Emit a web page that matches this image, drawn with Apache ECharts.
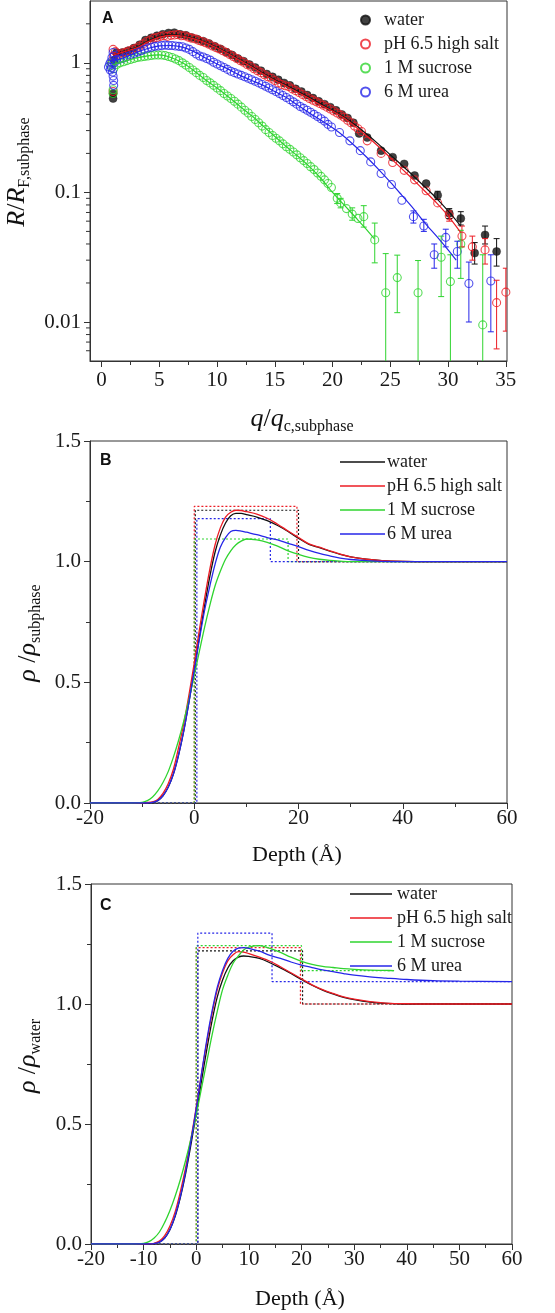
<!DOCTYPE html>
<html><head><meta charset="utf-8">
<script src="https://cdn.jsdelivr.net/npm/echarts@6/dist/echarts.min.js"></script>
<style>html,body{margin:0;padding:0;background:#fff}#c{width:555px;height:1313px}</style>
</head><body><div id="c"></div><script>
// ---------- Panel A data (q/qc, R/RF) ----------
const qTicks = [0,5,10,15,20,25,30,35];
const qMinor = [2.5,7.5,12.5,17.5,22.5,27.5,32.5];
const rTicks = [0.01,0.1,1];
const rMinor = [0.006,0.007,0.008,0.009,0.02,0.03,0.04,0.05,0.06,0.07,0.08,0.09,0.2,0.3,0.4,0.5,0.6,0.7,0.8,0.9,2];

const waterPts = [[1.0,0.53],[1.0,0.58],[1.1,1.05],[1.3,1.2],[1.8,1.2],[2.3,1.24],[2.8,1.3],[3.3,1.38],[3.8,1.5],[4.3,1.56],[4.8,1.62],[5.3,1.66],[5.8,1.7],[6.3,1.71],[6.8,1.66],[7.3,1.63],[7.8,1.57],[8.3,1.52],[8.8,1.47],[9.3,1.41],[9.8,1.34],[10.3,1.28],[10.8,1.21],[11.3,1.15],[11.8,1.08],[12.3,1.03],[12.8,0.97],[13.3,0.92],[13.8,0.87],[14.3,0.82],[14.8,0.78],[15.3,0.74],[15.8,0.70],[16.3,0.67],[16.8,0.63],[17.3,0.60],[17.8,0.565],[18.3,0.535],[18.8,0.505],[19.3,0.48],[19.8,0.455],[20.3,0.43],[20.8,0.40],[21.3,0.375],[21.8,0.345],[22.3,0.285],[23.0,0.265],[24.2,0.21],[25.2,0.187],[26.2,0.166],[27.1,0.135],[28.1,0.117],[29.1,0.095],[30.1,0.069],[31.1,0.063],[32.3,0.034],[33.2,0.047],[34.2,0.035]];
const saltPts = [[0.9,1.0],[1.0,1.27],[1.0,0.6],[1.05,1.12],[1.2,1.22],[1.5,1.17],[1.8,1.19],[2.1,1.21],[2.4,1.24],[2.7,1.27],[3.0,1.3],[3.3,1.35],[3.6,1.4],[3.9,1.46],[4.2,1.5],[4.5,1.55],[4.8,1.57],[5.1,1.6],[5.4,1.62],[5.7,1.6],[6.0,1.63],[6.3,1.64],[6.6,1.65],[6.9,1.62],[7.2,1.62],[7.5,1.58],[7.8,1.55],[8.1,1.53],[8.4,1.49],[8.7,1.46],[9.0,1.43],[9.3,1.39],[9.6,1.35],[9.9,1.31],[10.2,1.28],[10.5,1.24],[10.8,1.2],[11.1,1.16],[11.4,1.12],[11.7,1.08],[12.0,1.04],[12.3,1.01],[12.6,0.97],[12.9,0.94],[13.2,0.9],[13.5,0.87],[13.8,0.84],[14.1,0.81],[14.4,0.78],[14.7,0.76],[15.0,0.73],[15.3,0.70],[15.6,0.68],[15.9,0.665],[16.2,0.655],[16.5,0.63],[16.8,0.61],[17.1,0.59],[17.4,0.57],[17.7,0.55],[18.0,0.53],[18.3,0.515],[18.6,0.50],[18.9,0.485],[19.2,0.47],[19.5,0.455],[19.8,0.44],[20.1,0.425],[20.4,0.41],[20.7,0.395],[21.0,0.38],[21.3,0.36],[21.6,0.345],[21.9,0.325],[22.2,0.31],[22.5,0.295],[23.0,0.25],[24.2,0.20],[25.2,0.17],[26.2,0.148],[27.1,0.125],[28.1,0.103],[29.1,0.083],[30.1,0.066],[31.2,0.046],[32.1,0.038],[33.2,0.036],[34.2,0.0141],[35.0,0.017]];
const sucrosePts = [[0.8,0.95],[0.9,1.0],[1.0,0.62],[1.0,0.58],[1.05,0.9],[1.3,0.97],[1.6,1.0],[1.9,1.02],[2.2,1.04],[2.5,1.06],[2.8,1.08],[3.1,1.1],[3.4,1.11],[3.7,1.12],[4.0,1.13],[4.3,1.14],[4.6,1.15],[4.9,1.15],[5.2,1.15],[5.5,1.14],[5.8,1.12],[6.1,1.1],[6.4,1.07],[6.7,1.04],[7.0,1.0],[7.3,0.96],[7.6,0.92],[7.9,0.88],[8.2,0.84],[8.5,0.8],[8.8,0.77],[9.1,0.73],[9.4,0.7],[9.7,0.67],[10.0,0.64],[10.3,0.61],[10.6,0.58],[10.9,0.555],[11.2,0.53],[11.5,0.505],[11.8,0.48],[12.1,0.455],[12.4,0.43],[12.7,0.41],[13.0,0.385],[13.3,0.365],[13.6,0.345],[13.9,0.325],[14.2,0.305],[14.5,0.29],[14.8,0.275],[15.1,0.262],[15.4,0.25],[15.7,0.237],[16.0,0.225],[16.3,0.215],[16.6,0.205],[16.9,0.195],[17.2,0.185],[17.5,0.176],[17.8,0.167],[18.1,0.158],[18.4,0.15],[18.7,0.141],[19.0,0.133],[19.3,0.125],[19.6,0.117],[19.9,0.109],[20.4,0.09],[20.7,0.083],[21.2,0.075],[21.7,0.068],[22.2,0.063],[22.7,0.065],[23.65,0.043],[24.6,0.0168],[25.6,0.022],[27.4,0.0168],[29.4,0.0316],[30.2,0.0205],[31.1,0.04],[33.0,0.0095]];
const ureaPts = [[0.6,0.93],[0.7,0.98],[0.75,0.88],[0.8,1.02],[0.85,0.92],[0.9,1.1],[0.95,0.85],[1.0,1.2],[1.0,0.79],[1.05,0.73],[1.05,0.67],[1.1,1.14],[1.1,1.0],[1.3,1.05],[1.6,1.07],[1.9,1.09],[2.2,1.12],[2.5,1.15],[2.8,1.18],[3.1,1.21],[3.4,1.24],[3.7,1.27],[4.0,1.3],[4.3,1.32],[4.6,1.34],[4.9,1.35],[5.2,1.36],[5.5,1.37],[5.8,1.36],[6.1,1.36],[6.4,1.35],[6.7,1.34],[7.0,1.33],[7.3,1.3],[7.6,1.27],[7.9,1.22],[8.2,1.17],[8.5,1.13],[8.8,1.11],[9.1,1.08],[9.4,1.05],[9.7,1.01],[10.0,0.98],[10.3,0.95],[10.6,0.92],[10.9,0.89],[11.2,0.86],[11.5,0.84],[11.8,0.82],[12.1,0.8],[12.4,0.78],[12.7,0.76],[13.0,0.74],[13.3,0.72],[13.6,0.7],[13.9,0.68],[14.2,0.66],[14.5,0.64],[14.8,0.62],[15.1,0.6],[15.4,0.58],[15.7,0.56],[16.0,0.54],[16.3,0.52],[16.6,0.5],[16.9,0.48],[17.2,0.46],[17.5,0.445],[17.8,0.43],[18.1,0.415],[18.4,0.4],[18.7,0.385],[19.0,0.37],[19.3,0.355],[19.6,0.335],[19.9,0.32],[20.6,0.29],[21.5,0.25],[22.4,0.21],[23.3,0.172],[24.2,0.14],[25.1,0.115],[26.0,0.087],[27.0,0.065],[27.9,0.055],[28.8,0.033],[29.8,0.045],[30.8,0.035],[31.8,0.0198],[33.7,0.0207]];

// error bars [q, low, high]
const waterErr = [[29.1,0.088,0.102],[30.1,0.063,0.075],[31.1,0.056,0.071],[32.3,0.028,0.041],[33.2,0.040,0.055],[34.2,0.027,0.044]];
const saltErr = [[30.1,0.06,0.072],[31.2,0.038,0.055],[32.1,0.030,0.046],[33.2,0.028,0.044],[34.2,0.0062,0.021],[35.0,0.0085,0.026]];
const sucroseErr = [[20.4,0.082,0.098],[20.7,0.076,0.09],[21.7,0.061,0.076],[22.7,0.054,0.079],[23.65,0.0286,0.058],[24.6,0.001,0.0337],[25.6,0.0118,0.0328],[27.4,0.001,0.0298],[29.4,0.0157,0.046],[30.2,0.001,0.033],[31.1,0.0217,0.051],[33.0,0.001,0.033]];
const ureaErr = [[27.0,0.058,0.072],[27.9,0.05,0.062],[28.8,0.026,0.04],[29.8,0.038,0.052],[30.8,0.026,0.042],[31.8,0.01,0.029],[33.7,0.0084,0.033]];

// fits
const waterFit = [[1,1.15],[2,1.22],[3,1.31],[4,1.47],[5,1.6],[6,1.65],[7,1.62],[8,1.54],[9,1.44],[10,1.31],[11,1.18],[12,1.05],[13,0.94],[14,0.83],[15,0.74],[16,0.67],[17,0.6],[18,0.54],[19,0.48],[20,0.43],[21,0.38],[22,0.33],[23,0.28],[24,0.235],[25,0.195],[26,0.162],[27,0.134],[28,0.11],[29,0.09],[30,0.072],[31.1,0.055]];
const saltFit = [[1,1.15],[2,1.22],[3,1.3],[4,1.45],[5,1.58],[6,1.63],[7,1.61],[8,1.53],[9,1.43],[10,1.3],[11,1.17],[12,1.04],[13,0.93],[14,0.82],[15,0.73],[16,0.66],[17,0.59],[18,0.53],[19,0.47],[20,0.425],[21,0.375],[22,0.32],[23,0.27],[24,0.225],[25,0.185],[26,0.152],[27,0.125],[28,0.102],[29,0.083],[30,0.066],[31.1,0.049]];
const sucroseFit = [[1,0.97],[2,1.03],[3,1.09],[4,1.13],[5,1.15],[6,1.1],[7,1.0],[8,0.87],[9,0.74],[10,0.64],[11,0.545],[12,0.46],[13,0.39],[14,0.325],[15,0.27],[16,0.225],[17,0.19],[18,0.158],[19,0.128],[20,0.1],[21,0.08],[22,0.064],[23,0.051],[23.6,0.044]];
const ureaFit = [[1,1.03],[2,1.1],[3,1.2],[4,1.29],[5,1.35],[6,1.36],[7,1.32],[8,1.22],[9,1.09],[10,0.98],[11,0.89],[12,0.8],[13,0.73],[14,0.67],[15,0.6],[16,0.54],[17,0.47],[18,0.41],[19,0.36],[20,0.315],[21,0.27],[22,0.225],[23,0.185],[24,0.15],[25,0.12],[26,0.095],[27,0.075],[28,0.058],[29,0.046],[30,0.036],[30.7,0.030]];

// ---------- Panel B / C data (depth, rho) ----------
const depth = [-20,-12,-10,-9,-8,-7,-6,-5,-4,-3,-2,-1,0,1,2,3,4,5,6,7,8,9,10,12,14,16,18,20,22,24,26,28,30,33,36,40,45,50,60];
const depthShort = [-20,-12,-10,-9,-8,-7,-6,-5,-4,-3,-2,-1,0,1,2,3,4,5,6,7,8,9,10,12,14,16,18,20,22,24,26,28,30,33,36,37.6];
const bWater = [0,0,0,0,0.003,0.01,0.03,0.065,0.12,0.2,0.3,0.42,0.55,0.69,0.82,0.94,1.04,1.11,1.16,1.19,1.2,1.2,1.195,1.185,1.17,1.15,1.125,1.097,1.072,1.058,1.044,1.03,1.02,1.01,1.004,1.001,1.0,1.0,1.0];
const bSalt = [0,0,0,0.002,0.005,0.015,0.04,0.08,0.14,0.23,0.33,0.45,0.58,0.72,0.85,0.97,1.07,1.14,1.185,1.205,1.213,1.212,1.207,1.197,1.18,1.155,1.127,1.1,1.074,1.06,1.045,1.031,1.02,1.01,1.004,1.001,1.0,1.0,1.0];
const bSucrose = [0,0,0.003,0.01,0.025,0.05,0.085,0.13,0.19,0.26,0.34,0.43,0.53,0.63,0.73,0.82,0.9,0.96,1.01,1.045,1.07,1.085,1.094,1.09,1.08,1.064,1.045,1.03,1.018,1.01,1.005,1.002,1.0,1.0,1.0,1.0,1.0,1.0,1.0];
const bUrea = [0,0,0,0,0.003,0.01,0.03,0.065,0.12,0.2,0.3,0.42,0.55,0.68,0.8,0.9,0.99,1.06,1.1,1.125,1.13,1.127,1.122,1.112,1.1,1.09,1.076,1.062,1.047,1.034,1.024,1.015,1.009,1.004,1.001,1.0,1.0,1.0,1.0];
const cWater = [0,0,0,0,0.002,0.008,0.025,0.06,0.115,0.195,0.295,0.415,0.545,0.68,0.81,0.93,1.03,1.1,1.15,1.18,1.195,1.2,1.198,1.19,1.172,1.15,1.127,1.102,1.078,1.058,1.042,1.028,1.018,1.008,1.003,1.0,1.0,1.0,1.0];
const cSalt = [0,0,0,0.001,0.003,0.012,0.035,0.075,0.135,0.22,0.32,0.44,0.57,0.71,0.84,0.96,1.06,1.13,1.18,1.205,1.218,1.216,1.21,1.195,1.178,1.155,1.13,1.105,1.08,1.06,1.044,1.03,1.02,1.01,1.004,1.001,1.0,1.0,1.0];
const cSucrose = [0,0,0.003,0.01,0.025,0.05,0.09,0.14,0.2,0.27,0.35,0.44,0.54,0.65,0.76,0.87,0.97,1.06,1.12,1.17,1.2,1.225,1.237,1.243,1.232,1.215,1.195,1.178,1.165,1.157,1.152,1.147,1.144,1.141,1.14,1.139];
const cUrea = [0,0,0,0,0.002,0.008,0.025,0.06,0.12,0.2,0.305,0.43,0.565,0.71,0.85,0.97,1.07,1.14,1.19,1.22,1.233,1.235,1.232,1.22,1.203,1.19,1.175,1.162,1.152,1.142,1.135,1.127,1.12,1.113,1.108,1.102,1.097,1.095,1.093];

// box (slab) models: [depth, rho] corners
const boxBWater = [[-20,0],[0.2,0],[0.2,1.213],[20,1.213],[20,1],[60,1]];
const boxBSalt = [[-20,0],[0,0],[0,1.229],[19.7,1.229],[19.7,1],[60,1]];
const boxBSucrose = [[-20,0],[0,0],[0,1.094],[18,1.094],[18,1],[60,1]];
const boxBUrea = [[-20,0],[0.5,0],[0.5,1.178],[14.6,1.178],[14.6,1],[60,1]];
const boxCWater = [[-20,0],[0.3,0],[0.3,1.221],[20.2,1.221],[20.2,1],[60,1]];
const boxCSalt = [[-20,0],[0,0],[0,1.235],[19.8,1.235],[19.8,1],[60,1]];
const boxCSucrose = [[-20,0],[0,0],[0,1.243],[20,1.243],[20,1.139],[37.6,1.139]];
const boxCUrea = [[-20,0],[0.3,0],[0.3,1.295],[14.4,1.295],[14.4,1.093],[60,1.093]];

const names = ['water','pH 6.5 high salt','1 M sucrose','6 M urea'];
const COL = ['#111111','#ec1c24','#2fd42f','#2626e8'];
const SERIF = 'Liberation Serif';
const AX = '#333';
const Q_MIN = -1, Q_MAX = 35.1;

function zip(xs, ys){ return xs.map((x,i)=>[x, ys[i]]); }

const chart = echarts.init(document.getElementById('c'), null, {renderer:'canvas'});

const LBL = {fontFamily:SERIF, fontSize:21, color:'#1a1a1a'};
function valueAxisCommon(){
  return {
    axisLine:{show:true, onZero:false, lineStyle:{color:AX, width:1}},
    axisTick:{show:true, length:6, lineStyle:{color:AX, width:1}},
    axisLabel:Object.assign({}, LBL),
    splitLine:{show:false}
  };
}

const xAxis = [
  Object.assign(valueAxisCommon(), {gridIndex:0, type:'value', position:'bottom', min:Q_MIN, max:Q_MAX,
    axisTick:{show:true, length:6, customValues:qTicks, lineStyle:{color:AX}},
    axisLabel:Object.assign({customValues:qTicks, margin:9}, LBL)}),
  {gridIndex:0, type:'value', position:'bottom', min:Q_MIN, max:Q_MAX, axisLine:{show:false, onZero:false},
    axisTick:{show:true, length:4, customValues:qMinor, lineStyle:{color:AX}}, axisLabel:{show:false}, splitLine:{show:false}},
  Object.assign(valueAxisCommon(), {gridIndex:1, type:'value', min:-20, max:60, interval:20,
    minorTick:{show:true, splitNumber:2, length:4, lineStyle:{color:AX}}}),
  Object.assign(valueAxisCommon(), {gridIndex:2, type:'value', min:-20, max:60, interval:10,
    minorTick:{show:true, splitNumber:2, length:4, lineStyle:{color:AX}}})
];
xAxis[2].axisLabel.margin = 5; xAxis[3].axisLabel.margin = 5;

const yAxis = [
  Object.assign(valueAxisCommon(), {gridIndex:0, type:'log', logBase:10, position:'left', min:0.005, max:3,
    axisTick:{show:true, length:6, customValues:rTicks, lineStyle:{color:AX}},
    axisLabel:Object.assign({customValues:rTicks, margin:9, formatter:v=>String(+(+v).toPrecision(2))}, LBL)}),
  {gridIndex:0, type:'log', logBase:10, position:'left', min:0.005, max:3, axisLine:{show:false, onZero:false},
    axisTick:{show:false}, axisLabel:{show:false}, splitLine:{show:false}},
  Object.assign(valueAxisCommon(), {gridIndex:1, type:'value', min:0, max:1.5, interval:0.5,
    minorTick:{show:true, splitNumber:2, length:4, lineStyle:{color:AX}}}),
  Object.assign(valueAxisCommon(), {gridIndex:2, type:'value', min:0, max:1.5, interval:0.5,
    minorTick:{show:true, splitNumber:2, length:4, lineStyle:{color:AX}}})
];
yAxis[2].axisLabel.formatter = v=>v.toFixed(1); yAxis[2].axisLabel.margin = 9;
yAxis[3].axisLabel.formatter = v=>v.toFixed(1); yAxis[3].axisLabel.margin = 9;

const series = [];
// log-axis minor ticks, placed through the log y scale at the left edge of panel A
series.push({
  type:'custom', name:'minorTicksA', xAxisIndex:0, yAxisIndex:0, clip:false, silent:true, z:5,
  data:rMinor.map(v=>[Q_MIN, v]),
  renderItem:(params, api)=>{
    const p = api.coord([api.value(0), api.value(1)]);
    return {type:'line', shape:{x1:p[0]-4, y1:p[1], x2:p[0], y2:p[1]}, style:{stroke:AX, lineWidth:1}};
  }
});
// Panel A scatter
const ptsA = [waterPts, saltPts, sucrosePts, ureaPts];
const errA = [waterErr, saltErr, sucroseErr, ureaErr];
const fitA = [waterFit, saltFit, sucroseFit, ureaFit];
const orderA = [0,1,2,3];
orderA.forEach(i=>{
  series.push({
    type:'scatter', name:names[i], xAxisIndex:0, yAxisIndex:0, data:ptsA[i],
    symbol:'circle', symbolSize:8,
    itemStyle: i===0 ? {color:COL[0], borderColor:COL[0], borderWidth:0.5}
                     : {color:'rgba(255,255,255,0)', borderColor:COL[i], borderWidth:1.1},
    z:2, silent:true
  });
});
orderA.forEach(i=>{
  const col = COL[i];
  series.push({
    type:'custom', name:'err'+i, xAxisIndex:0, yAxisIndex:0, data:errA[i], clip:true, z:3, silent:true,
    renderItem:(params, api)=>{
      const x = api.value(0), lo = api.value(1), hi = api.value(2);
      const p1 = api.coord([x, hi]), p2 = api.coord([x, lo]);
      const w = 3, st = {stroke:col, lineWidth:1};
      return {type:'group', children:[
        {type:'line', shape:{x1:p1[0], y1:p1[1], x2:p2[0], y2:p2[1]}, style:st},
        {type:'line', shape:{x1:p1[0]-w, y1:p1[1], x2:p1[0]+w, y2:p1[1]}, style:st},
        {type:'line', shape:{x1:p2[0]-w, y1:p2[1], x2:p2[0]+w, y2:p2[1]}, style:st}
      ]};
    }
  });
});
orderA.forEach(i=>{
  series.push({type:'line', name:'fit'+i, xAxisIndex:0, yAxisIndex:0, data:fitA[i], symbol:'none', smooth:0.3,
    lineStyle:{color:COL[i], width:1.2}, z:4, silent:true});
});

// Panels B, C
const boxB = [boxBWater, boxBSalt, boxBSucrose, boxBUrea];
const boxC = [boxCWater, boxCSalt, boxCSucrose, boxCUrea];
const curB = [bWater, bSalt, bSucrose, bUrea];
const curC = [cWater, cSalt, cSucrose, cUrea];
[0,1,2,3].forEach(i=>{
  series.push({type:'line', name:'boxB'+i, xAxisIndex:2, yAxisIndex:2, data:boxB[i], symbol:'none',
    lineStyle:{color:COL[i], width:1.2, type:[2,2]}, z:2, silent:true});
  series.push({type:'line', name:'boxC'+i, xAxisIndex:3, yAxisIndex:3, data:boxC[i], symbol:'none',
    lineStyle:{color:COL[i], width:1.2, type:[2,2]}, z:2, silent:true});
});
[0,1,2,3].forEach(i=>{
  series.push({type:'line', name:'B|'+names[i], xAxisIndex:2, yAxisIndex:2, data:zip(depth, curB[i]), symbol:'none', smooth:0.35,
    itemStyle:{color:COL[i]}, lineStyle:{color:COL[i], width:1.3}, z:3, silent:true});
  series.push({type:'line', name:'C|'+names[i], xAxisIndex:3, yAxisIndex:3, data:zip(i===2?depthShort:depth, curC[i]), symbol:'none', smooth:0.35,
    itemStyle:{color:COL[i]}, lineStyle:{color:COL[i], width:1.3}, z:3, silent:true});
});

const legTxt = {fontFamily:SERIF, fontSize:18, lineHeight:18, color:'#1a1a1a'};
const legend = [
  {data:names, orient:'vertical', left:355, top:6, itemWidth:9, itemHeight:9, itemGap:6, icon:'circle', selectedMode:false,
    textStyle:Object.assign({padding:[0,0,0,9]}, legTxt)},
  {data:names.map(n=>'B|'+n), orient:'vertical', left:335, top:448, itemWidth:45, itemHeight:1.4, itemGap:6, icon:'rect', selectedMode:false,
    formatter:n=>n.slice(2), textStyle:Object.assign({padding:[0,0,0,-3]}, legTxt)},
  {data:names.map(n=>'C|'+n), orient:'vertical', left:345, top:880, itemWidth:42, itemHeight:1.4, itemGap:6, icon:'rect', selectedMode:false,
    formatter:n=>n.slice(2), textStyle:legTxt}
];

const richT = {
  i:{fontFamily:SERIF, fontStyle:'italic', fontSize:26, lineHeight:32, fill:'#111'},
  n:{fontFamily:SERIF, fontSize:26, lineHeight:32, fill:'#111'},
  s:{fontFamily:SERIF, fontSize:16, lineHeight:16, verticalAlign:'bottom', fill:'#111'}
};
function title(x, y, rot, text){
  return {type:'text', x:x, y:y, rotation:rot, silent:true,
    style:{text:text, rich:richT, align:'center', verticalAlign:'middle', textAlign:'center', textVerticalAlign:'middle', fill:'#111'}};
}
function plain(x, y, text){
  return {type:'text', x:x, y:y, silent:true,
    style:{text:text, fontFamily:SERIF, fontSize:22, fill:'#111', align:'center', verticalAlign:'middle', textAlign:'center', textVerticalAlign:'middle'}};
}
function letter(x, y, t){
  return {type:'text', x:x, y:y, silent:true,
    style:{text:t, fontFamily:'Liberation Sans', fontWeight:'bold', fontSize:16, fill:'#111'}};
}

const option = {
  animation:false,
  backgroundColor:'#fff',
  grid:[
    {left:90, top:1, width:417, height:360, show:true, borderColor:AX, borderWidth:1, backgroundColor:'transparent'},
    {left:90, top:441, width:417, height:362, show:true, borderColor:AX, borderWidth:1, backgroundColor:'transparent'},
    {left:91, top:884, width:421, height:360, show:true, borderColor:AX, borderWidth:1, backgroundColor:'transparent'}
  ],
  xAxis:xAxis, yAxis:yAxis, series:series, legend:legend,
  graphic:[
    letter(102,11,'A'), letter(100,453,'B'), letter(100,898,'C'),
    title(302, 419, 0, '{i|q}{n|/}{i|q}{s|c,subphase}'),
    title(17, 172, Math.PI/2, '{i|R}{n|/}{i|R}{s|F,subphase}'),
    title(28, 633, Math.PI/2, '{i|ρ}{n| /}{i|ρ}{s|subphase}'),
    title(28, 1056, Math.PI/2, '{i|ρ}{n| /}{i|ρ}{s|water}'),
    plain(297, 855, 'Depth (Å)'),
    plain(300, 1299, 'Depth (Å)')
  ]
};
chart.setOption(option);
</script></body></html>
